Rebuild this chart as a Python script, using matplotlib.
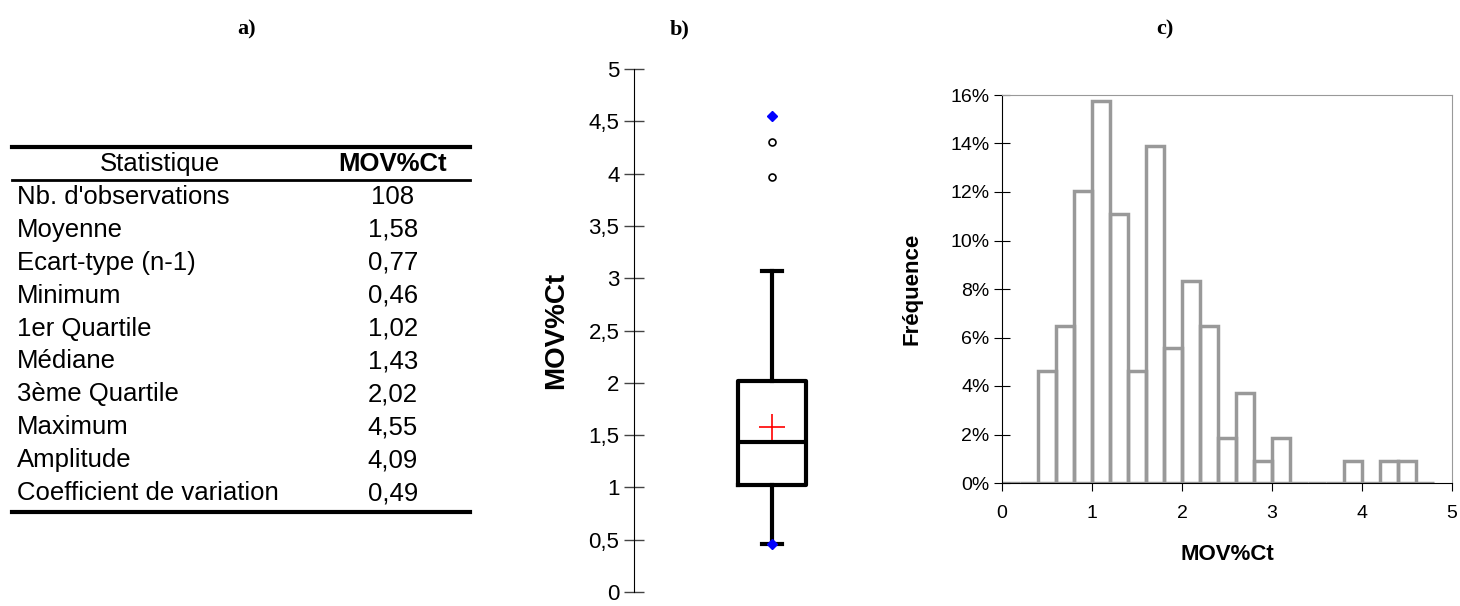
import numpy as np
import matplotlib.pyplot as plt
from matplotlib.lines import Line2D
from matplotlib.ticker import FuncFormatter

plt.rcParams['font.family'] = ['Liberation Sans', 'DejaVu Sans']

# a) summary table
stat_names = ["Nb. d'observations", "Moyenne", "Ecart-type (n-1)", "Minimum",
              "1er Quartile", "Médiane", "3ème Quartile", "Maximum",
              "Amplitude", "Coefficient de variation"]
stat_values = ["108", "1,58", "0,77", "0,46", "1,02", "1,43", "2,02",
               "4,55", "4,09", "0,49"]

# b) box plot summary
q1, median, q3 = 1.02, 1.43, 2.02
mean = 1.58
whisker_low, whisker_high = 0.46, 3.07
outliers = [3.97, 4.30]
v_min, v_max = 0.46, 4.55

# c) histogram, bins of 0.2 (counts out of 108)
bin_edges = np.round(np.arange(0, 4.81, 0.2), 2)
counts = [0, 0, 5, 7, 13, 17, 12, 5, 15, 6, 9, 7, 2, 4, 1, 2,
          0, 0, 0, 1, 0, 1, 1, 0]
n_obs = 108

fig = plt.figure(figsize=(14.6, 6.06), dpi=100)
W, H = 1460, 606


def px_axes(x0, y0, x1, y1):
    return fig.add_axes([x0 / W, 1 - y1 / H, (x1 - x0) / W, (y1 - y0) / H])


# ---- table ----
axt = px_axes(12, 147, 470, 512)
axt.set_xlim(0, 458)
axt.set_ylim(365, 0)
axt.axis('off')
for y, lw in [(0, 3), (33, 2), (365, 3)]:
    axt.add_line(Line2D([0, 458], [y, y], color='black', lw=lw, clip_on=False))
axt.text(148, 17, "Statistique", ha='center', va='center', fontsize=18.5)
axt.text(381, 17, "MOV%Ct", ha='center', va='center', fontsize=18.5, fontweight='bold')
row_y = 50 + 32.9 * np.arange(len(stat_names))
for y, name, val in zip(row_y, stat_names, stat_values):
    axt.text(5, y, name, ha='left', va='center', fontsize=18.5)
    axt.text(381, y, val, ha='center', va='center', fontsize=18.5)

# ---- box plot ----
axb = px_axes(634, 69, 910, 592)
stats = [dict(med=median, q1=q1, q3=q3, whislo=whisker_low, whishi=whisker_high,
              mean=mean, fliers=outliers)]
axb.bxp(stats, positions=[0.5], widths=0.246, showmeans=True,
        boxprops=dict(color='black', lw=3),
        medianprops=dict(color='black', lw=3),
        whiskerprops=dict(color='black', lw=3),
        capprops=dict(color='black', lw=3),
        meanprops=dict(marker='+', markeredgecolor='red', markersize=19, markeredgewidth=1.2),
        flierprops=dict(marker='o', markerfacecolor='white', markeredgecolor='black',
                        markersize=5, markeredgewidth=1.2),
        capwidths=0.07)
axb.plot([0.5, 0.5], [v_min, v_max], 'D', color='blue', markersize=5, zorder=5)
axb.set_xlim(0, 1)
axb.set_ylim(0, 5)
axb.set_yticks(np.arange(0, 5.01, 0.5))
axb.yaxis.set_major_formatter(FuncFormatter(lambda v, p: f"{v:g}".replace('.', ',')))
axb.tick_params(axis='y', direction='inout', length=15, width=1, labelsize=16,
                pad=3, color='#444444')
axb.set_xticks([])
for s in ['top', 'right', 'bottom']:
    axb.spines[s].set_visible(False)
axb.set_ylabel("MOV%Ct", fontsize=20, fontweight='bold', labelpad=14)

# ---- histogram ----
axh = px_axes(1002, 95, 1452, 483)
freq = np.array(counts) / n_obs
axh.bar(bin_edges[:-1], freq, width=0.2, align='edge', fill=False,
        edgecolor='#999999', lw=2.5)
axh.set_xlim(0, 5)
axh.set_ylim(0, 0.16)
axh.set_yticks(np.arange(0, 0.161, 0.02))
axh.yaxis.set_major_formatter(FuncFormatter(lambda v, p: f"{v * 100:.0f}%"))
axh.set_xticks(range(6))
axh.tick_params(axis='y', direction='inout', length=12, labelsize=14, pad=3)
axh.tick_params(axis='x', direction='out', length=6, labelsize=14, pad=10)
for s in ['top', 'right']:
    axh.spines[s].set_color('#999999')
axh.set_xlabel("MOV%Ct", fontsize=16, fontweight='bold', labelpad=16)
axh.set_ylabel("Fréquence", fontsize=16, fontweight='bold', labelpad=20)

# panel letters
for x, lab in [(247, "a)"), (680, "b)"), (1165, "c)")]:
    fig.text(x / W, 1 - 29 / H, lab, ha='center', va='center', fontsize=16,
             fontweight='bold', family='Liberation Serif')

fig.savefig("out.png", dpi=100)
